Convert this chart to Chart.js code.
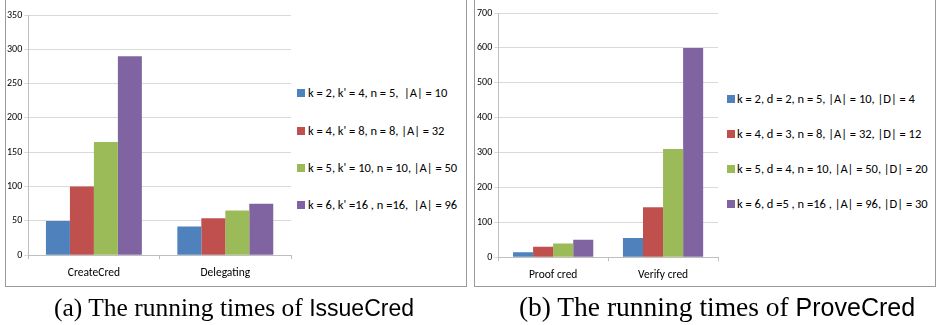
<!DOCTYPE html>
<html>
<head>
<meta charset="utf-8">
<script src="https://cdn.jsdelivr.net/npm/chart.js@4.4.1/dist/chart.umd.min.js"></script>
<style>
  html, body { margin: 0; padding: 0; background: #fff; }
  body { width: 936px; height: 325px; position: relative; overflow: hidden; }
  .box { position: absolute; border: 1px solid #9a9a9a; box-sizing: border-box; }
  canvas { position: absolute; }
  .legend { position: absolute; font-family: Carlito, 'Liberation Sans Narrow', 'DejaVu Sans Condensed', sans-serif; font-size: 12.5px; color: #000; }
  .legend .item { position: absolute; white-space: pre; line-height: 14px; }
  .legend .sw { position: absolute; width: 8px; height: 8px; }
  .cap { position: absolute; top: 293px; font-family: 'Liberation Serif', serif; font-size: 25.5px; color: #000; white-space: pre; transform: translateX(-50%); }
  .cap .sf { font-family: 'Liberation Sans', sans-serif; font-size: 23px; }
  .cap.b { top: 291px; font-size: 27.5px; }
  .cap.b .sf { font-size: 25px; }
</style>
</head>
<body>
<div class="box" style="left:5px; top:-5px; width:462px; height:292px;"></div>
<div class="box" style="left:474px; top:-5px; width:462px; height:292px;"></div>
<canvas id="chartA" width="290" height="294" style="left:5px; top:0px;"></canvas>
<canvas id="chartB" width="247" height="296" style="left:475px; top:0px;"></canvas>
<div id="legendA" class="legend"></div>
<div id="legendB" class="legend"></div>
<div class="cap" style="left:234px;">(a) The running times of <span class="sf">IssueCred</span></div>
<div class="cap b" style="left:717px;">(b) The running times of <span class="sf">ProveCred</span></div>
<script>
// ---- Data ----
const categoriesA = ['CreateCred', 'Delegating'];
const seriesLabelsA = [
  'k = 2, k\' = 4, n = 5,  |A| = 10',
  'k = 4, k\' = 8, n = 8, |A| = 32',
  'k = 5, k\' = 10, n = 10, |A| = 50',
  'k = 6, k\' =16 , n =16,  |A| = 96'
];
const seriesA1 = [50, 42];
const seriesA2 = [100, 54];
const seriesA3 = [165, 65];
const seriesA4 = [290, 75];
const yTicksA = { min: 0, max: 350, step: 50 };

const categoriesB = ['Proof cred', 'Verify cred'];
const seriesLabelsB = [
  'k = 2, d = 2, n = 5, |A| = 10, |D| = 4',
  'k = 4, d = 3, n = 8, |A| = 32, |D| = 12',
  'k = 5, d = 4, n = 10, |A| = 50, |D| = 20',
  'k = 6, d =5 , n =16 , |A| = 96, |D| = 30'
];
const seriesB1 = [14, 55];
const seriesB2 = [30, 143];
const seriesB3 = [39, 310];
const seriesB4 = [50, 600];
const yTicksB = { min: 0, max: 700, step: 100 };

const colors = ['#4F81BD', '#C0504D', '#9BBB59', '#8064A2'];
const fontFam = "Carlito, 'Liberation Sans Narrow', 'DejaVu Sans Condensed', sans-serif";

function makeChart(id, cats, labels, series, yt, padTop) {
  return new Chart(document.getElementById(id), {
    type: 'bar',
    data: {
      labels: cats,
      datasets: series.map((s, i) => ({
        label: labels[i],
        data: s,
        backgroundColor: colors[i],
        borderWidth: 0,
        categoryPercentage: 0.73,
        barPercentage: 1.0
      }))
    },
    options: {
      responsive: false,
      animation: false,
      devicePixelRatio: 1,
      layout: { padding: { top: padTop, right: 4, bottom: 7, left: 0 } },
      plugins: { legend: { display: false }, tooltip: { enabled: false } },
      scales: {
        x: {
          grid: { drawOnChartArea: false, drawTicks: true, tickLength: 4, color: '#bfbfbf' },
          border: { color: '#bfbfbf' },
          ticks: { color: '#000', font: { family: fontFam, size: 11.5 }, padding: 7 }
        },
        y: {
          min: yt.min, max: yt.max,
          grid: { color: '#d9d9d9', tickLength: 4 },
          border: { color: '#bfbfbf' },
          ticks: { stepSize: yt.step, color: '#000', font: { family: fontFam, size: 10 }, padding: 2 }
        }
      }
    }
  });
}

makeChart('chartA', categoriesA, seriesLabelsA, [seriesA1, seriesA2, seriesA3, seriesA4], yTicksA, 15);
makeChart('chartB', categoriesB, seriesLabelsB, [seriesB1, seriesB2, seriesB3, seriesB4], yTicksB, 13);

function makeLegend(id, labels, boxX, textX, rowYs) {
  const el = document.getElementById(id);
  labels.forEach((t, i) => {
    const sw = document.createElement('div');
    sw.className = 'sw';
    sw.style.left = boxX + 'px';
    sw.style.top = (rowYs[i] - 4) + 'px';
    sw.style.background = colors[i];
    el.appendChild(sw);
    const it = document.createElement('div');
    it.className = 'item';
    it.style.left = textX + 'px';
    it.style.top = (rowYs[i] - 7) + 'px';
    it.textContent = t;
    el.appendChild(it);
  });
}
makeLegend('legendA', seriesLabelsA, 297, 308, [93, 130.5, 167.5, 204.5]);
makeLegend('legendB', seriesLabelsB, 727, 737, [99, 134, 168.5, 203.5]);
</script>
</body>
</html>
